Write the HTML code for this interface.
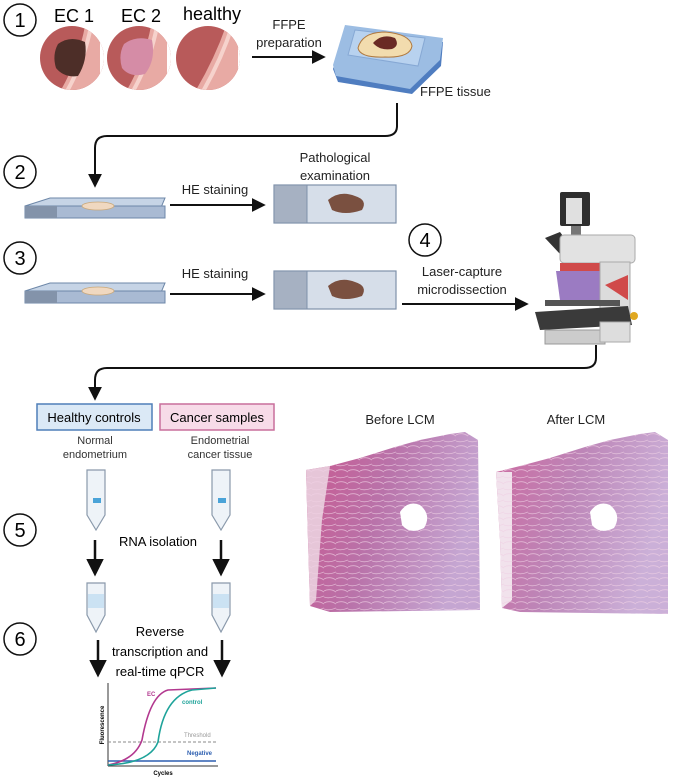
<!DOCTYPE html>
<html><head><meta charset="utf-8"><style>
body{margin:0;background:#fff;}
svg{display:block;font-family:"Liberation Sans",sans-serif;}
</style></head><body>
<svg width="685" height="777" viewBox="0 0 685 777" xmlns="http://www.w3.org/2000/svg">
<defs>
<marker id="ah" viewBox="0 0 10 10" refX="8" refY="5" markerWidth="7" markerHeight="7" orient="auto"><path d="M0,0 L10,5 L0,10 z" fill="#111"/></marker>
<pattern id="hist" width="12" height="12" patternUnits="userSpaceOnUse">
<path d="M0,3 Q6,0 12,4 M0,9 Q5,11 12,8" stroke="#f0d0e4" stroke-width="0.8" fill="none" opacity="0.7"/>
</pattern>
<linearGradient id="hg" x1="0" y1="0" x2="1" y2="0.3"><stop offset="0" stop-color="#c9588f"/><stop offset="0.5" stop-color="#b973aa"/><stop offset="1" stop-color="#c5a6d2"/></linearGradient>
<linearGradient id="hg2" x1="0" y1="0" x2="1" y2="0.3"><stop offset="0" stop-color="#cc6aa0"/><stop offset="0.5" stop-color="#bd86b8"/><stop offset="1" stop-color="#cbb0d8"/></linearGradient>
<clipPath id="k1"><circle cx="72" cy="58" r="32"/></clipPath>
<clipPath id="k2"><circle cx="139" cy="58" r="32"/></clipPath>
<clipPath id="k3"><circle cx="208" cy="58" r="32"/></clipPath>
</defs>
<style>.c{fill:#fff;stroke:#111;stroke-width:1.5}.n{font-size:20px;text-anchor:middle}.t{font-size:13px;fill:#222}</style>

<circle class="c" cx="20" cy="20" r="16"/><text class="n" x="20" y="27">1</text>
<circle class="c" cx="20" cy="172" r="16"/><text class="n" x="20" y="179">2</text>
<circle class="c" cx="20" cy="258" r="16"/><text class="n" x="20" y="265">3</text>
<circle class="c" cx="425" cy="240" r="16"/><text class="n" x="425" y="247">4</text>
<circle class="c" cx="20" cy="530" r="16"/><text class="n" x="20" y="537">5</text>
<circle class="c" cx="20" cy="639" r="16"/><text class="n" x="20" y="646">6</text>

<text x="74" y="22" font-size="18" text-anchor="middle">EC 1</text>
<text x="141" y="22" font-size="18" text-anchor="middle">EC 2</text>
<text x="212" y="20" font-size="18" text-anchor="middle">healthy</text>
<g clip-path="url(#k1)">
<rect x="36" y="22" width="72" height="72" fill="#b85a5a"/>
<path d="M55,100 Q80,60 86,20 L110,20 L110,100z" fill="#e8aaa4"/>
<path d="M62,100 Q86,60 92,20" stroke="#f6d2cc" stroke-width="4" fill="none"/>
<path d="M100,20 L100,100 L110,100 L110,20z" fill="#fff"/>
<path d="M58,44 Q70,35 85,42 Q88,60 78,76 Q64,78 56,68 Q52,55 58,44z" fill="#4d2e28"/>
</g>
<g clip-path="url(#k2)">
<rect x="103" y="22" width="72" height="72" fill="#b85a5a"/>
<path d="M121,100 Q146,60 152,20 L176,20 L176,100z" fill="#e8aaa4"/>
<path d="M128,100 Q152,60 158,20" stroke="#f6d2cc" stroke-width="4" fill="none"/>
<path d="M167,20 L167,100 L176,100 L176,20z" fill="#fff"/>
<path d="M124,44 Q136,35 152,40 Q156,60 145,74 Q130,78 122,68 Q118,55 124,44z" fill="#d58ca6"/>
</g>
<g clip-path="url(#k3)">
<rect x="172" y="22" width="72" height="72" fill="#b85a5a"/>
<path d="M190,100 Q215,60 228,20 L244,20 L244,100z" fill="#e8aaa4"/>
<path d="M198,100 Q222,60 234,20" stroke="#f6d2cc" stroke-width="4" fill="none"/>
<path d="M238,20 L238,100 L244,100 L244,20z" fill="#fff"/>
</g>
<text class="t" x="289" y="29" text-anchor="middle">FFPE</text>
<text class="t" x="289" y="47" text-anchor="middle">preparation</text>
<line x1="252" y1="57" x2="323" y2="57" stroke="#111" stroke-width="2" marker-end="url(#ah)"/>

<path d="M333,69 L345,29 L443,42 L441,66 L412,94 L338,82z" fill="#4f7dc0"/>
<path d="M333,65 L345,25 L443,38 L440,60 L410,89 L336,76z" fill="#9cbde3"/>
<path d="M348,55 L355,30 L425,38 L418,66z" fill="#b8d2ef" stroke="#86a8d4"/>
<path d="M358,48 Q362,32 385,32 Q410,34 412,46 Q410,58 385,57 Q360,58 358,48z" fill="#f2dcae" stroke="#b07a40"/>
<path d="M373,43 Q382,33 395,38 Q400,46 392,49 Q380,51 373,43z" fill="#6a2a24"/>
<text class="t" x="420" y="96">FFPE tissue</text>
<path d="M397,103 L397,126 Q397,136 385,136 L107,136 Q95,136 95,148 L95,185" stroke="#111" stroke-width="2" fill="none" marker-end="url(#ah)"/>

<g>
<path d="M25,206 L50,198 L165,198 L160,210 L25,218z" fill="#c6d4e6" stroke="#6d87a8"/>
<rect x="25" y="206" width="140" height="12" fill="#a9bad3" stroke="#6d87a8"/>
<rect x="25" y="206" width="32" height="12" fill="#8393aa"/>
<ellipse cx="98" cy="206" rx="16" ry="4" fill="#f0d8c0" stroke="#c9a87a" stroke-width="0.8"/>
</g>
<text class="t" x="215" y="194" text-anchor="middle">HE staining</text>
<line x1="170" y1="205" x2="263" y2="205" stroke="#111" stroke-width="2" marker-end="url(#ah)"/>
<text class="t" x="335" y="162" text-anchor="middle">Pathological</text>
<text class="t" x="335" y="180" text-anchor="middle">examination</text>
<rect x="274" y="185" width="122" height="38" fill="#d6dee9" stroke="#7f91aa" stroke-width="1.2"/>
<rect x="274" y="185" width="33" height="38" fill="#a6b1c2" stroke="#7f91aa"/>
<path d="M328,200 Q340,190 355,196 Q368,200 362,210 Q345,216 332,210z" fill="#7a5040"/>

<g>
<path d="M25,291 L50,283 L165,283 L160,295 L25,303z" fill="#c6d4e6" stroke="#6d87a8"/>
<rect x="25" y="291" width="140" height="12" fill="#a9bad3" stroke="#6d87a8"/>
<rect x="25" y="291" width="32" height="12" fill="#8393aa"/>
<ellipse cx="98" cy="291" rx="16" ry="4" fill="#f0d8c0" stroke="#c9a87a" stroke-width="0.8"/>
</g>
<text class="t" x="215" y="278" text-anchor="middle">HE staining</text>
<line x1="170" y1="294" x2="263" y2="294" stroke="#111" stroke-width="2" marker-end="url(#ah)"/>
<rect x="274" y="271" width="122" height="38" fill="#d6dee9" stroke="#7f91aa" stroke-width="1.2"/>
<rect x="274" y="271" width="33" height="38" fill="#a6b1c2" stroke="#7f91aa"/>
<path d="M328,286 Q340,276 355,282 Q368,286 362,296 Q345,302 332,296z" fill="#7a5040"/>
<text class="t" x="462" y="276" text-anchor="middle">Laser-capture</text>
<text class="t" x="462" y="294" text-anchor="middle">microdissection</text>
<line x1="402" y1="304" x2="526" y2="304" stroke="#111" stroke-width="2" marker-end="url(#ah)"/>

<g>
<rect x="560" y="192" width="30" height="34" rx="2" fill="#2e2e2e"/>
<rect x="566" y="198" width="16" height="26" fill="#e0e0e0"/>
<rect x="571" y="226" width="10" height="10" fill="#777"/>
<path d="M545,238 L560,232 L572,248 L560,254z" fill="#333"/>
<rect x="560" y="235" width="75" height="28" rx="4" fill="#e2e2e2" stroke="#aaa"/>
<rect x="560" y="263" width="60" height="8" fill="#d04a4a"/>
<path d="M556,271 L600,271 L602,300 L560,300z" fill="#9b7bc2"/>
<rect x="600" y="262" width="30" height="60" fill="#dcdcdc" stroke="#aaa"/>
<path d="M605,285 L628,275 L628,300z" fill="#d04a4a"/>
<rect x="545" y="300" width="75" height="6" fill="#555"/>
<path d="M535,312 L628,306 L632,325 L540,330z" fill="#3a3a3a"/>
<rect x="545" y="330" width="60" height="14" fill="#ccc" stroke="#999"/>
<rect x="600" y="322" width="30" height="20" fill="#ddd" stroke="#aaa"/>
<circle cx="634" cy="316" r="4" fill="#e0a820"/>
</g>
<path d="M596,345 L596,358 Q596,368 584,368 L107,368 Q95,368 95,380 L95,398" stroke="#111" stroke-width="2" fill="none" marker-end="url(#ah)"/>

<rect x="37" y="404" width="115" height="26" fill="#dbe9f6" stroke="#4f7fb8" stroke-width="1.5"/>
<text x="94" y="422" font-size="13" text-anchor="middle">Healthy controls</text>
<rect x="160" y="404" width="114" height="26" fill="#f7dbe8" stroke="#c96f9c" stroke-width="1.5"/>
<text x="217" y="422" font-size="13" text-anchor="middle">Cancer samples</text>
<text x="95" y="444" font-size="11" text-anchor="middle" fill="#333">Normal</text>
<text x="95" y="458" font-size="11" text-anchor="middle" fill="#333">endometrium</text>
<text x="220" y="444" font-size="11" text-anchor="middle" fill="#333">Endometrial</text>
<text x="220" y="458" font-size="11" text-anchor="middle" fill="#333">cancer tissue</text>

<g fill="#eef3f8" stroke="#8a99ab" stroke-width="1.2">
<path d="M87,470 L105,470 L105,515 L96,530 L87,515z"/>
<path d="M212,470 L230,470 L230,515 L221,530 L212,515z"/>
<path d="M87,583 L105,583 L105,615 L96,632 L87,615z"/>
<path d="M212,583 L230,583 L230,615 L221,632 L212,615z"/>
</g>
<rect x="93" y="498" width="8" height="5" fill="#4aa3d8"/>
<rect x="218" y="498" width="8" height="5" fill="#4aa3d8"/>
<rect x="88" y="594" width="16" height="14" fill="#cbe2f3"/>
<rect x="213" y="594" width="16" height="14" fill="#cbe2f3"/>
<text x="158" y="546" font-size="13" text-anchor="middle">RNA isolation</text>
<line x1="95" y1="540" x2="95" y2="573" stroke="#111" stroke-width="2.5" marker-end="url(#ah)"/>
<line x1="221" y1="540" x2="221" y2="573" stroke="#111" stroke-width="2.5" marker-end="url(#ah)"/>
<text x="160" y="636" font-size="13" text-anchor="middle">Reverse</text>
<text x="160" y="656" font-size="13" text-anchor="middle">transcription and</text>
<text x="160" y="676" font-size="13" text-anchor="middle">real-time qPCR</text>
<line x1="98" y1="640" x2="98" y2="674" stroke="#111" stroke-width="2.5" marker-end="url(#ah)"/>
<line x1="222" y1="640" x2="222" y2="674" stroke="#111" stroke-width="2.5" marker-end="url(#ah)"/>

<line x1="108" y1="683" x2="108" y2="766" stroke="#333"/>
<line x1="108" y1="766" x2="218" y2="766" stroke="#333"/>
<line x1="108" y1="742" x2="216" y2="742" stroke="#888" stroke-dasharray="3,2"/>
<line x1="108" y1="761" x2="216" y2="761" stroke="#2d5fb0" stroke-width="1.5"/>
<path d="M108,765 Q135,760 142,740 Q150,695 168,690 L216,688" stroke="#b2388f" stroke-width="1.6" fill="none"/>
<path d="M108,765 Q150,763 158,742 Q164,697 192,690 L216,688" stroke="#1ea39a" stroke-width="1.6" fill="none"/>
<text x="147" y="696" font-size="6" fill="#b2388f" font-weight="bold">EC</text>
<text x="182" y="704" font-size="6" fill="#1ea39a" font-weight="bold">control</text>
<text x="184" y="737" font-size="6" fill="#999">Threshold</text>
<text x="187" y="755" font-size="6" fill="#2d5fb0" font-weight="bold">Negative</text>
<text x="163" y="775" font-size="6" font-weight="bold" text-anchor="middle">Cycles</text>
<text x="104" y="725" font-size="6" font-weight="bold" text-anchor="middle" transform="rotate(-90 104 725)">Fluorescence</text>

<text x="400" y="424" font-size="13" text-anchor="middle" fill="#222">Before LCM</text>
<text x="576" y="424" font-size="13" text-anchor="middle" fill="#222">After LCM</text>
<path d="M306,470 L330,466 L360,458 L395,447 L420,440 L450,434 L465,432 L478,440 L480,610 L330,612 L310,606 L308,540z" fill="url(#hg)"/>
<path d="M306,470 L330,466 L322,520 L316,600 L310,606 L308,540z" fill="#e6c6d8"/>
<path d="M306,470 L330,466 L360,458 L395,447 L420,440 L450,434 L465,432 L478,440 L480,610 L330,612 L310,606 L308,540z" fill="url(#hist)"/>
<path d="M400,512 Q408,500 420,505 Q432,515 424,528 Q410,535 402,525z" fill="#fff"/>
<path d="M496,472 L520,466 L550,458 L585,447 L610,440 L640,434 L655,432 L668,440 L668,614 L520,612 L502,608 L500,540z" fill="url(#hg2)"/>
<path d="M496,472 L512,472 L512,600 L502,608 L500,540z" fill="#f1e2ec"/>
<path d="M496,472 L520,466 L550,458 L585,447 L610,440 L640,434 L655,432 L668,440 L668,614 L520,612 L502,608 L500,540z" fill="url(#hist)"/>
<path d="M590,512 Q598,500 610,505 Q622,515 614,528 Q600,535 592,525z" fill="#fff"/>
</svg>
</body></html>
